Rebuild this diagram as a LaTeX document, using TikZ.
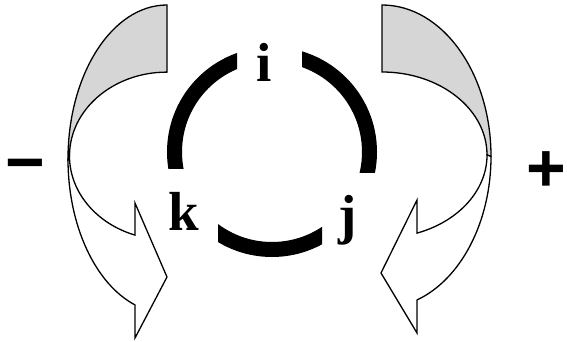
\documentclass[tikz,border=0pt]{standalone}
\usepackage{fontspec}
\setmainfont{Liberation Serif}
\newfontfamily\signfont{Liberation Sans}
\usetikzlibrary{calc}
\definecolor{backgray}{RGB}{214,214,214}
\begin{document}
\begin{tikzpicture}[x=1pt,y=1pt,line join=miter,
  arrowline/.style={draw=black,line width=1.3pt},
  backpart/.style={arrowline,fill=backgray},
  frontpart/.style={arrowline,fill=white},
  ring/.style={line width=15pt,draw=black},
  letter/.style={font=\fontsize{55}{55}\selectfont\bfseries,inner sep=0pt,anchor=base},
  sign/.style={font=\signfont\fontsize{68}{68}\selectfont\bfseries,inner sep=0pt,anchor=base}]
\useasboundingbox (0,0) rectangle (567,341);
\fill[white] (0,0) rectangle (567,341);
% ring with three gaps
\coordinate (C) at (272,189);
\begin{scope}
  \clip (150,311) rectangle (237,173);
  \draw[ring] (C) circle[radius=97.5pt];
\end{scope}
\begin{scope}
  \clip (302,311) rectangle (400,169);
  \draw[ring] (C) circle[radius=97.5pt];
\end{scope}
\begin{scope}
  \clip (218,141) rectangle (322,70);
  \draw[ring] (C) circle[radius=97.5pt];
\end{scope}
% left curved arrow
\coordinate (LO) at (167,181.9);
\coordinate (LI) at (167,185.1);
\path[backpart] (167,336) -- (167,268.9)
  arc[start angle=90,end angle=180,x radius=97.5pt,y radius=83.8pt]
  -- ($(LO)+(180:99pt and 154.1pt)$)
  arc[start angle=180,end angle=90,x radius=99pt,y radius=154.1pt] -- cycle;
\path[frontpart] ($(LO)+(180:99pt and 154.1pt)$)
  arc[start angle=180,end angle=251.14,x radius=99pt,y radius=154.1pt]
  -- (135,3) -- (167,64) -- (135,138) -- (135,105.9)
  arc[start angle=250.85,end angle=180,x radius=97.5pt,y radius=83.8pt] -- cycle;
% right curved arrow
\coordinate (RO) at (382,184.5);
\coordinate (RI) at (382,186.1);
\path[backpart] (382,336) -- (382,269)
  arc[start angle=90,end angle=0,x radius=105pt,y radius=82.9pt]
  -- ($(RO)+(0:109pt and 151.5pt)$)
  arc[start angle=0,end angle=90,x radius=109pt,y radius=151.5pt] -- cycle;
\path[frontpart] ($(RO)+(0:109pt and 151.5pt)$)
  arc[start angle=0,end angle=-71.28,x radius=109pt,y radius=151.5pt]
  -- (417,8) -- (381,68) -- (417,141) -- (417,107.9)
  arc[start angle=-70.55,end angle=0,x radius=105pt,y radius=82.9pt] -- cycle;
% labels
\node[letter] (ni) at (264,260) {i};
\node[letter] (nk) at (184,111) {k};
\node[letter] (nj) at (348,108) {j};
\node[sign] (minus) at (25,156) {−};
\node[sign] (plus) at (546,150) {+};
\end{tikzpicture}
\end{document}
